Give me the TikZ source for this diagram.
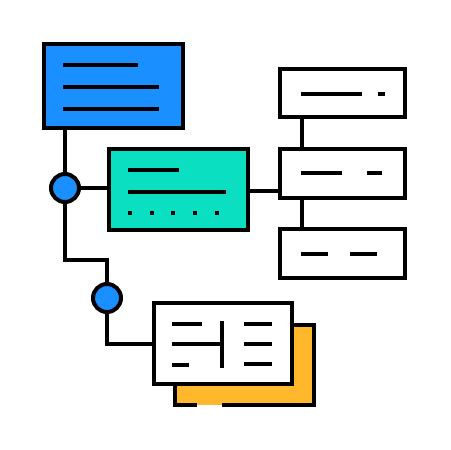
\documentclass[tikz,border=0pt]{standalone}
\usepackage{pgf,tikz}
\usetikzlibrary{positioning}
\usepackage{xcolor}

\definecolor{blu}{HTML}{1A8FFF}
\definecolor{verdeacqua}{HTML}{0BDFC1}
\definecolor{giallo}{HTML}{FFB82B}

\tikzset{
    scatola/.style={rectangle, draw, line width=0.08cm, inner sep=0pt, outer sep=0pt},
    pallino/.style={circle, draw, fill=blu, line width=0.08cm, minimum size=0.56cm, inner sep=0pt, outer sep=0pt},
    riga/.style={line width=0.08cm}
}

\begin{document}
\begin{tikzpicture}[x=0.02cm, y=-0.02cm]
\useasboundingbox (0,0) rectangle (450,450);

% Scatole principali
\node[scatola, fill=blu, minimum width=2.78cm, minimum height=1.68cm] (testa) at (113.5,86) {}; % Scatola blu in alto
\node[scatola, fill=verdeacqua, minimum width=2.78cm, minimum height=1.62cm] (centro) at (178.5,189.5) {}; % Scatola verde

% Scatole a destra
\node[scatola, minimum width=2.5cm, minimum height=0.96cm] (destra1) at (342.5,93) {};
\node[scatola, minimum width=2.5cm, minimum height=0.98cm] (destra2) at (342.5,173.5) {};
\node[scatola, minimum width=2.5cm, minimum height=0.98cm] (destra3) at (342.5,253.5) {};

% Scatola gialla dietro (bordo inferiore interrotto)
\node[rectangle, fill=giallo, inner sep=0pt, outer sep=0pt, minimum width=2.78cm, minimum height=1.6cm] (retro) at (244.5,365) {};
\draw[riga] ([xshift=0.94cm]retro.south west) -- (retro.south east) -- (retro.north east) -- (retro.north west) -- (retro.south west) -- ([xshift=0.44cm]retro.south west);

% Scatola bianca in basso
\node[scatola, fill=white, minimum width=2.76cm, minimum height=1.62cm] (nota) at (223,343.5) {};

% Pallini
\node[pallino] (snodo1) at (65,188) {};
\node[pallino] (snodo2) at (107,298) {};

% Collegamenti
\coordinate (gomito) at (65,260);
\coordinate (asse) at (302,0);
\draw[riga] (snodo1 |- testa.south) -- (snodo1.north);
\draw[riga] (snodo1.east) -- (snodo1.east -| centro.west);
\draw[riga] ([yshift=-0.03cm]centro.east) -- ([yshift=-0.03cm]centro.east -| destra2.west);
\draw[riga] (destra1.south -| asse) -- (destra2.north -| asse);
\draw[riga] (destra2.south -| asse) -- (destra3.north -| asse);
\draw[riga] (snodo1.south) -- (gomito) -| (snodo2.north);
\draw[riga] (snodo2.south) |- (nota.west);

% Righe di testo nella scatola blu
\foreach \y/\x in {65/138, 87/159, 109/159} {
    \draw[riga] (63,\y) -- (\x,\y); % Righe
}

% Righe e puntini nella scatola verde
\draw[riga] (128,170) -- (179,170);
\draw[riga] (128,192) -- (226,192);
\foreach \x in {130,152,173,195,217} {
    \fill (\x-2,211) rectangle ++(4,4); % Puntini
}

% Righe nelle scatole a destra
\draw[riga] (301,94) -- (362,94);
\draw[riga] (378,94) -- (385,94);
\draw[riga] (301,173) -- (342,173);
\draw[riga] (367,173) -- (382,173);
\draw[riga] (301,254) -- (328,254);
\draw[riga] (350,254) -- (377,254);

% Tabella nella scatola bianca
\draw[riga] (222,321) -- (222,368); % Divisorio
\draw[riga] (172,324) -- (202,324);
\draw[riga] (172,344) -- (222,344);
\draw[riga] (172,365) -- (189,365);
\foreach \y in {324,344,364} {
    \draw[riga] (244,\y) -- (272,\y);
}

\end{tikzpicture}
\end{document}
